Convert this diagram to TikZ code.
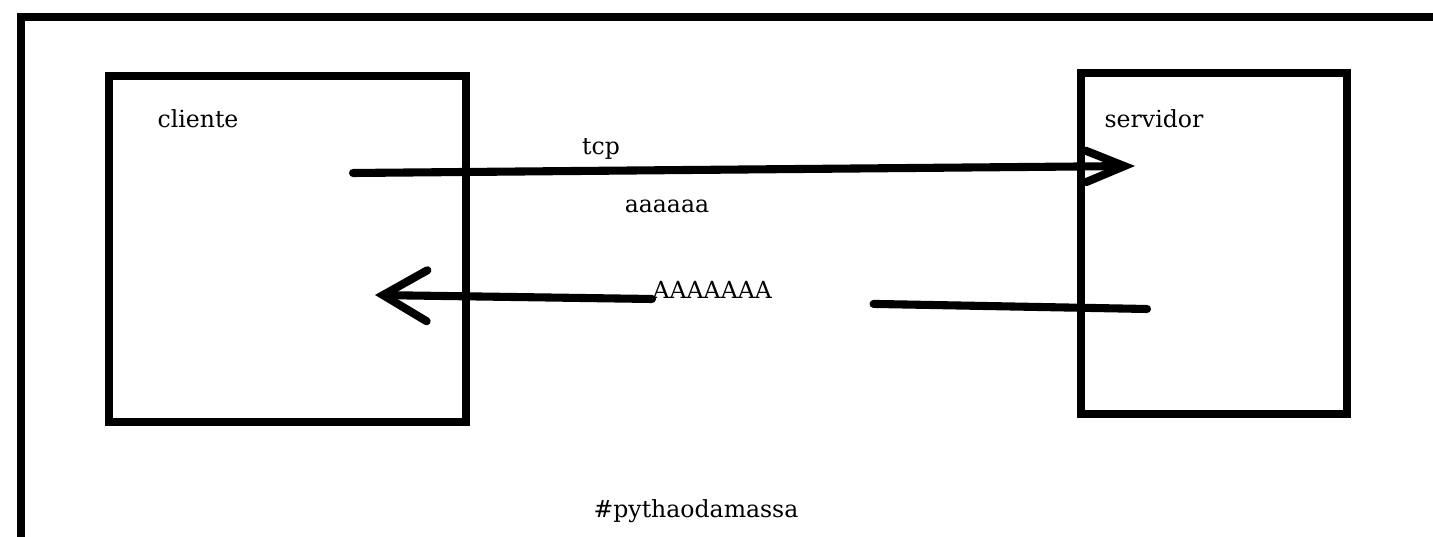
\documentclass[tikz,border=0pt]{standalone}
\usepackage{fontspec}
\setmainfont{DejaVu Serif}
\usetikzlibrary{arrows.meta,positioning}

\begin{document}
\begin{tikzpicture}[
    x=0.01cm, y=-0.01cm,
    frame/.style={line width=2.3pt},
    box/.style={draw,line width=2.3pt,inner sep=0pt,outer sep=0pt},
    txt/.style={font=\fontsize{6.7}{8}\selectfont,inner sep=0pt},
    wire/.style={line width=2.3pt,line cap=round},
    arrow/.style={wire,-{Straight Barb[length=11pt,width=9pt,line cap=round]}},
    backarrow/.style={wire,-{Straight Barb[length=12.5pt,width=14.5pt,line cap=round]}}
]
\useasboundingbox (0,0) rectangle (1433,537);

% outer frame
\draw[frame] (1433,17) -- (21,17) -- (21,537);

% the two machines
\node[box,minimum width=3.57cm,minimum height=3.46cm] (cliente) at (287.5,249) {};
\node[box,minimum width=2.66cm,minimum height=3.41cm] (servidor) at (1214,243.5) {};
\node[txt,below right=3.3mm and 4.8mm of cliente.north west] (clientelbl) {cliente};
\node[txt,below right=3.6mm and 2.3mm of servidor.north west] (servidorlbl) {servidor};

% request
\coordinate (req1) at (353,173);
\coordinate (req2) at (1135,166);
\draw[arrow] (req1) -- (req2);
\node[txt,anchor=base] (tcp) at (601,155) {tcp};
\node[txt,anchor=base] (msg) at (667,213) {aaaaaa};

% reply
\coordinate (rep1) at (1147,309);
\coordinate (rep2) at (375,295);
\node[txt,anchor=base west,text width=2.2cm,align=left] (reply) at (652,299) {AAAAAAA};
\draw[wire] (rep1) -- ([yshift=-1.4pt]reply.base east);
\draw[backarrow] (reply.base west) -- (rep2);

\node[txt,anchor=base] (tag) at (696,518) {\#pythaodamassa};

\end{tikzpicture}
\end{document}
